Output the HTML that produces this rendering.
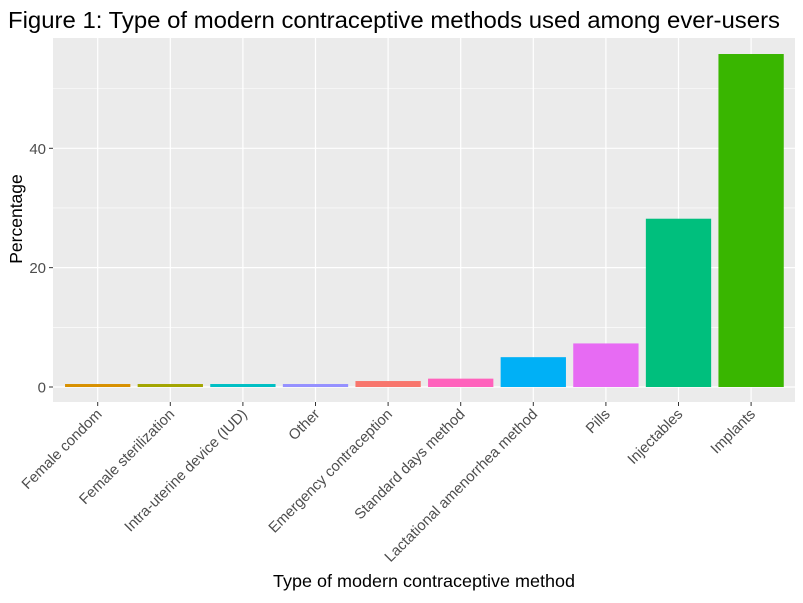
<!DOCTYPE html>
<html><head><meta charset="utf-8"><style>
body{margin:0;background:#fff;font-family:"Liberation Sans",Arial,sans-serif}
</style></head><body>
<svg width="803" height="598" xmlns="http://www.w3.org/2000/svg">
<text x="8" y="28" font-size="23" textLength="772" lengthAdjust="spacingAndGlyphs" fill="#000">Figure 1: Type of modern contraceptive methods used among ever-users</text>
<rect x="53" y="38" width="742" height="364" fill="#ebebeb"/>
<g id="grid"></g><g id="bars"></g><g id="axes"></g>
<text x="424" y="587" font-size="17.5" textLength="302" lengthAdjust="spacingAndGlyphs" text-anchor="middle" fill="#000">Type of modern contraceptive method</text>
<text transform="translate(22,219) rotate(-90)" font-size="17.5" text-anchor="middle" fill="#000">Percentage</text>
</svg>
<script>
const categories=["Female condom","Female sterilization","Intra-uterine device (IUD)","Other","Emergency contraception","Standard days method","Lactational amenorrhea method","Pills","Injectables","Implants"];
const values=[0.5,0.5,0.5,0.5,1.0,1.4,5.0,7.3,28.2,55.8];
const colors=["#D89000","#A3A500","#00BFC4","#9590FF","#F8766D","#FF62BC","#00B0F6","#E76BF3","#00BF7D","#39B600"];
const yTicks=[0,20,40];
const yMinor=[10,30,50];
const NS="http://www.w3.org/2000/svg";
const y=v=>387-v*(387-148.3)/40;
const step=72.6, x=i=>97.7+i*step, bw=65.3;
function mk(t,a,p){const e=document.createElementNS(NS,t);for(const k in a)e.setAttribute(k,a[k]);p.appendChild(e);return e;}
const grid=document.getElementById('grid'),bars=document.getElementById('bars'),axes=document.getElementById('axes');
yMinor.forEach(v=>{const l=mk('line',{x1:53,x2:795,y1:y(v),y2:y(v),stroke:'#fff','stroke-width':0.6},grid);

});
yTicks.forEach(v=>{const l=mk('line',{x1:53,x2:795,y1:y(v),y2:y(v),stroke:'#fff','stroke-width':1.2},grid);


const tk=mk('line',{x1:49,x2:53,y1:y(v),y2:y(v),stroke:'#333'},axes);


const t=mk('text',{x:46,y:y(v)+5.5,'font-size':15,fill:'#4d4d4d','text-anchor':'end'},axes);t.textContent=v;

});
categories.forEach((c,i)=>{const cx=x(i);
const g=mk('line',{x1:cx,x2:cx,y1:38,y2:402,stroke:'#fff','stroke-width':1.2},grid);


const r=mk('rect',{x:cx-bw/2,y:y(values[i]),width:bw,height:y(0)-y(values[i]),fill:colors[i]},bars);


const tk=mk('line',{x1:cx,x2:cx,y1:402,y2:406,stroke:'#333'},axes);


const t=mk('text',{transform:`translate(${cx+5},${415}) rotate(-45)`,'font-size':14.8,fill:'#4d4d4d','text-anchor':'end'},axes);t.textContent=c;

});
</script>
</body></html>
